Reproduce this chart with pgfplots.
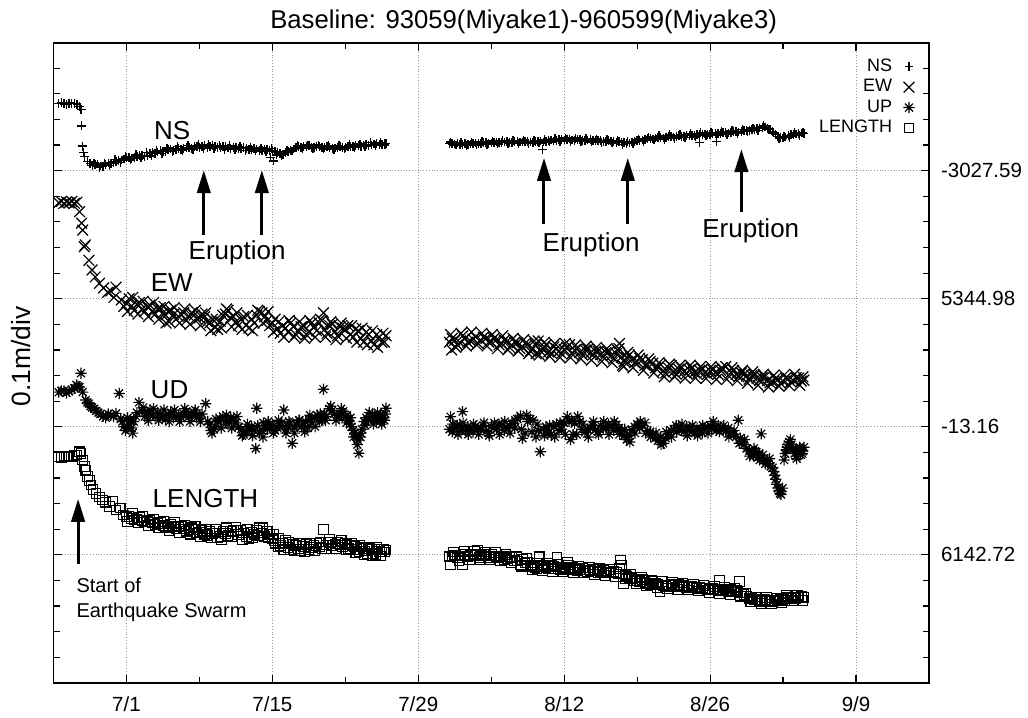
\documentclass[border=0pt]{standalone}
\usepackage{fontspec}
\setmainfont{Liberation Sans}
\usepackage{pgfplots}
\pgfplotsset{compat=1.18}
\usetikzlibrary{arrows.meta}
\pgfdeclareplotmark{gstar}{%
  \pgfpathmoveto{\pgfqpoint{-\pgfplotmarksize}{0pt}}\pgfpathlineto{\pgfqpoint{\pgfplotmarksize}{0pt}}%
  \pgfpathmoveto{\pgfqpoint{0pt}{-\pgfplotmarksize}}\pgfpathlineto{\pgfqpoint{0pt}{\pgfplotmarksize}}%
  \pgfpathmoveto{\pgfqpoint{-.7071\pgfplotmarksize}{-.7071\pgfplotmarksize}}\pgfpathlineto{\pgfqpoint{.7071\pgfplotmarksize}{.7071\pgfplotmarksize}}%
  \pgfpathmoveto{\pgfqpoint{-.7071\pgfplotmarksize}{.7071\pgfplotmarksize}}\pgfpathlineto{\pgfqpoint{.7071\pgfplotmarksize}{-.7071\pgfplotmarksize}}%
  \pgfusepathqstroke}
\pgfplotsset{
  nsst/.style={only marks, black, mark=+, mark size=2.2pt, mark options={line width=0.7pt}},
  ewst/.style={only marks, black, mark=x, mark size=3.8pt, mark options={line width=0.6pt}},
  udst/.style={only marks, black, mark=gstar, mark size=2.8pt, mark options={line width=0.6pt}},
  lnst/.style={only marks, black, mark=square, mark size=2.4pt, mark options={line width=0.55pt}},
}
\begin{document}
\begin{tikzpicture}
\begin{axis}[
  name=ax,
  scale only axis, width=437.75pt, height=320pt,
  xmin=-7, xmax=77, ymin=0, ymax=25,
  xtick={0,14,28,42,56,70}, xticklabels={7/1,7/15,7/29,8/12,8/26,9/9},
  minor xtick={-7,7,21,35,49,63},
  ytick={5,10,15,20}, yticklabels={6142.72,-13.16,5344.98,-3027.59},
  minor ytick={1,2,3,4,6,7,8,9,11,12,13,14,16,17,18,19,21,22,23,24},
  yticklabel pos=right, ytick pos=both, xtick pos=both,
  tick align=inside,
  major tick length=4pt, minor tick length=3pt,
  every tick/.style={black, line width=0.6pt},
  xmajorgrids, ymajorgrids,
  major grid style={densely dotted, gray!80, line width=0.4pt},
  axis line style={line width=0.9pt},
  tick label style={font=\fontsize{10.25}{12}\selectfont},
  xticklabel style={yshift=-3.5pt},
  yticklabel style={xshift=2.5pt},
  every axis title shift=0pt,
  title={Baseline: 93059(Miyake1)-960599(Miyake3)},
  title style={font=\fontsize{12.85}{15}\selectfont, at={(axis description cs:0.537,1.032)}, anchor=center},
  ylabel={0.1m/div},
  ylabel style={font=\fontsize{13.2}{15}\selectfont, at={(axis description cs:-0.0365,0.51)}, anchor=center},
  legend plot pos=right, legend cell align=right,
  legend image code/.code={\path[draw=none,fill=none] (0pt,0pt) -- (15.6pt,0pt); \draw[#1] plot coordinates {(7.8pt,0pt)};},
  legend style={at={(rel axis cs:1,1)}, anchor=north east, xshift=-2pt, yshift=-6.75pt,
    draw=none, fill=none, font=\fontsize{9}{10}\selectfont, inner sep=0pt, row sep=0pt,
    nodes={inner sep=0.6pt, text height=6.8pt, text depth=2.2pt}},
]
% NS
\addplot[nsst] coordinates {
(-6.5,22.63) (-6.0,22.61) (-5.5,22.64) (-5.0,22.62) (-4.75,22.6) (-4.5,22.5) (-4.35,22.38) (-4.3,21.75) (-4.2,20.96) (-4.1,20.7)
(-4.0,20.55) (-3.75,20.36) (-3.5,20.28) (-3.0,20.24) (-2.5,20.18) (-2.0,20.23) (-1.5,20.27) (-1.0,20.36) (-0.5,20.42) (0.0,20.5)
(0.5,20.47) (1.0,20.56) (1.5,20.6) (2.0,20.6) (2.5,20.7) (3.0,20.73) (3.5,20.76) (4.0,20.82) (4.5,20.8) (5.0,20.87)
(5.5,20.86) (6.0,20.9) (6.5,20.93) (7.0,20.91) (7.5,20.97) (8.0,20.93) (8.5,20.94) (9.0,20.9) (9.5,20.93) (10.0,20.88)
(10.5,20.91) (11.0,20.86) (11.5,20.88) (12.0,20.83) (12.5,20.85) (13.0,20.79) (13.5,20.84) (13.8,20.52) (14.0,20.8) (14.1,20.38)
(14.5,20.7) (15.0,20.64) (15.5,20.74) (16.0,20.85) (16.5,20.95) (17.0,20.93) (17.5,20.97) (18.0,20.92) (18.5,20.95) (19.0,20.9)
(19.5,20.92) (20.0,20.89) (20.5,20.94) (21.0,20.91) (21.5,20.95) (22.0,20.97) (22.5,20.96) (23.0,21.02) (23.5,21.0) (24.0,21.05)
(24.5,21.03) (24.9,21.06)
(31.0,21.07) (31.5,21.04) (32.0,21.02) (32.5,21.06) (33.0,21.04) (33.5,21.08) (34.0,21.06) (34.5,21.1) (35.0,21.08) (35.5,21.12)
(36.0,21.09) (36.5,21.13) (37.0,21.11) (37.5,21.15) (38.0,21.12) (38.5,21.14) (39.0,21.11) (39.5,21.15) (39.9,20.82) (40.0,21.12)
(40.5,21.18) (41.0,21.16) (41.5,21.22) (42.0,21.2) (42.5,21.24) (43.0,21.19) (43.5,21.22) (44.0,21.18) (44.5,21.21) (45.0,21.17)
(45.5,21.19) (46.0,21.14) (46.5,21.16) (47.0,21.11) (47.5,21.12) (48.0,21.06) (48.5,21.12) (49.0,21.17) (49.5,21.2) (50.0,21.26)
(50.5,21.24) (51.0,21.3) (51.5,21.28) (52.0,21.34) (52.5,21.32) (53.0,21.36) (53.5,21.34) (54.0,21.39) (54.5,21.37) (55.0,21.1)
(55.0,21.41) (55.5,21.43) (56.0,21.42) (56.5,21.46) (56.6,21.15) (57.0,21.45) (57.5,21.5) (58.0,21.48) (58.5,21.54) (59.0,21.52)
(59.5,21.58) (60.0,21.6) (60.5,21.64) (61.0,21.7) (61.5,21.66) (62.0,21.52) (62.5,21.34) (63.0,21.28) (63.5,21.36) (64.0,21.42)
(64.5,21.44) (65.0,21.46)
};
\addlegendentry{NS\hspace{7pt}}
% EW
\addplot[ewst] coordinates {
(-6.5,18.75) (-6.25,18.8) (-6.0,18.72) (-5.75,18.78) (-5.5,18.74) (-5.25,18.8) (-5.0,18.73) (-4.75,18.77) (-4.5,18.4) (-4.3,17.95)
(-4.2,17.68) (-4.05,17.03) (-3.95,17.1) (-3.6,16.5) (-3.3,16.12) (-3.0,15.85) (-2.6,15.6) (-2.2,15.42) (-1.8,15.25) (-1.5,15.3)
(-1.2,15.05) (-1.0,15.45) (-0.5,14.95) (0.0,14.82) (0.5,14.72) (1.0,14.78) (1.5,14.6) (2.0,14.68) (2.5,14.52) (3.0,14.6)
(3.5,14.45) (3.8,14.05) (4.0,14.5) (4.5,14.38) (5.0,14.3) (5.5,14.45) (6.0,14.32) (6.5,14.36) (7.0,14.25) (7.5,14.3)
(8.0,14.05) (8.5,13.88) (9.0,14.12) (9.5,14.4) (10.0,14.25) (10.5,14.1) (11.0,14.18) (11.5,13.98) (12.0,14.2) (12.5,14.35)
(13.0,14.45) (13.5,14.15) (14.0,14.05) (14.5,13.82) (15.0,13.95) (15.5,13.7) (16.0,13.9) (16.5,13.75) (17.0,13.95) (17.5,13.7)
(18.0,13.88) (18.5,14.05) (18.9,14.45) (19.0,13.8) (19.5,13.95) (20.0,13.72) (20.5,13.9) (21.0,13.78) (21.5,13.6) (22.0,13.82)
(22.5,13.45) (23.0,13.7) (23.5,13.35) (24.0,13.6) (24.5,13.3) (24.9,13.55)
(31.0,13.3) (31.2,13.0) (31.5,13.38) (32.0,13.28) (32.5,13.45) (33.0,13.35) (33.5,13.5) (34.0,13.38) (34.5,13.45) (35.0,13.32)
(35.5,13.4) (36.0,13.25) (36.5,13.33) (37.0,13.18) (37.5,13.28) (38.0,13.12) (38.5,13.22) (39.0,13.05) (39.3,12.85) (39.5,13.35)
(40.0,13.05) (40.5,12.92) (41.0,13.12) (41.5,12.95) (42.0,13.02) (42.5,13.2) (43.0,12.98) (43.5,12.9) (44.0,13.0) (44.5,12.88)
(45.0,12.95) (45.5,12.82) (46.0,12.9) (46.5,12.78) (47.0,12.85) (47.3,13.25) (47.5,12.72) (47.7,12.35) (48.0,12.7) (48.5,12.62)
(49.0,12.55) (49.5,12.62) (50.0,12.42) (50.5,12.48) (51.0,12.32) (51.5,12.18) (52.0,12.3) (52.5,12.15) (53.0,12.25) (53.5,12.15)
(54.0,12.22) (54.5,12.12) (55.0,12.2) (55.5,12.1) (56.0,12.18) (56.5,12.12) (57.0,12.2) (57.5,12.35) (58.0,12.12) (58.5,12.05)
(59.0,12.1) (59.5,11.98) (60.0,12.0) (60.5,11.9) (61.0,11.92) (61.5,11.8) (62.0,11.75) (62.5,11.85) (63.0,11.78) (63.5,11.88)
(64.0,11.8) (64.5,11.9) (65.0,11.82)
};
\addlegendentry{EW\hspace{7pt}}
% UD
\addplot[udst] coordinates {
(-6.5,11.35) (-6.0,11.4) (-5.5,11.38) (-5.0,11.5) (-4.8,11.63) (-4.5,11.55) (-4.36,12.09) (-4.2,11.35) (-3.9,11.04) (-3.6,10.9)
(-3.3,10.75) (-2.9,10.62) (-2.5,10.5) (-2.0,10.35) (-1.5,10.45) (-1.0,10.52) (-0.7,11.3) (-0.4,10.2) (-0.1,9.85) (0.2,10.1)
(0.5,9.95) (0.9,10.4) (1.2,10.95) (1.5,10.6) (2.0,10.52) (2.5,10.45) (3.0,10.55) (3.5,10.38) (4.0,10.48) (4.5,10.35)
(5.0,10.45) (5.5,10.5) (6.0,10.4) (6.5,10.55) (7.0,10.42) (7.6,10.9) (8.0,10.1) (8.2,9.75) (8.5,10.0) (9.0,10.3)
(9.5,10.2) (10.0,10.35) (10.5,10.15) (11.0,9.9) (11.5,9.8) (12.0,10.0) (12.4,9.15) (12.5,10.72) (13.0,9.85) (13.3,10.05)
(13.5,9.9) (14.0,10.1) (14.5,9.95) (14.9,10.15) (15.1,10.65) (15.5,10.0) (15.9,9.35) (16.3,10.1) (16.8,10.0) (17.2,10.2)
(17.6,10.28) (18.1,10.35) (18.5,10.2) (18.9,11.46) (19.2,10.4) (19.7,10.62) (20.2,10.45) (20.6,10.5) (21.0,10.38) (21.3,10.25)
(21.6,10.0) (21.9,9.75) (22.2,9.48) (22.3,8.96) (22.6,9.9) (23.0,10.35) (23.4,10.4) (23.8,10.28) (24.2,10.38) (24.6,10.3)
(24.9,10.72)
(31.0,9.9) (31.1,10.39) (31.5,9.95) (32.0,10.05) (32.25,10.59) (32.5,9.85) (33.0,9.95) (33.5,10.02) (34.0,9.88) (34.5,9.82)
(35.0,10.0) (35.5,9.9) (36.0,10.05) (36.5,9.95) (37.0,10.12) (37.5,10.3) (37.8,10.42) (38.0,9.55) (38.5,10.2) (39.0,10.25)
(39.3,9.6) (39.7,9.02) (40.0,9.9) (40.5,9.78) (41.0,10.0) (41.5,9.85) (42.0,10.15) (42.3,10.39) (42.6,9.5) (43.0,10.12)
(43.3,10.4) (43.7,9.9) (44.0,9.78) (44.5,9.95) (45.0,9.88) (45.5,10.05) (46.0,9.92) (46.5,10.0) (47.0,10.08) (47.5,9.8)
(48.0,9.5) (48.5,9.85) (49.0,10.1) (49.5,10.05) (50.0,9.85) (50.5,9.7) (51.0,9.45) (51.5,9.35) (52.0,9.7) (52.5,9.9)
(53.0,10.0) (53.5,9.8) (54.0,9.9) (54.5,9.75) (55.0,9.85) (55.5,9.95) (56.0,10.05) (56.3,10.2) (56.6,9.85) (57.0,9.95)
(57.5,9.82) (58.0,9.75) (58.5,9.6) (58.7,10.25) (59.0,9.4) (59.5,9.15) (60.0,8.95) (60.3,9.05) (60.6,8.8) (60.9,9.72)
(61.2,8.75) (61.6,8.55) (62.0,8.4) (62.2,8.1) (62.4,7.75) (62.6,7.5) (62.8,7.35) (62.95,7.6) (63.1,8.7) (63.3,9.1)
(63.6,9.4) (63.8,9.3) (64.1,8.95) (64.4,9.05) (64.7,8.9) (65.0,9.2)
};
\addlegendentry{UP\hspace{7pt}}
% LENGTH
\addplot[lnst] coordinates {
(-6.5,8.83) (-6.25,8.8) (-6.0,8.85) (-5.75,8.82) (-5.5,8.86) (-5.25,8.84) (-5.0,8.88) (-4.75,8.9) (-4.5,9.02) (-4.35,8.95)
(-4.2,8.7) (-4.04,8.44) (-3.9,8.3) (-3.72,8.05) (-3.55,7.9) (-3.4,7.72) (-3.2,7.55) (-2.92,7.4) (-2.6,7.25) (-2.29,7.14)
(-2.0,7.05) (-1.65,6.88) (-1.3,7.1) (-1.0,6.75) (-0.6,6.82) (-0.3,6.55) (0.0,6.48) (0.5,6.42) (1.0,6.38) (1.5,6.34)
(2.0,6.3) (2.5,6.25) (3.0,6.22) (3.5,6.15) (4.0,6.05) (4.5,6.12) (5.0,6.08) (5.5,6.0) (6.0,5.96) (6.5,5.98)
(7.0,5.88) (7.5,5.8) (8.0,5.92) (8.5,5.85) (9.0,5.72) (9.5,5.82) (10.0,5.9) (10.5,6.08) (11.0,5.95) (11.5,5.7)
(12.0,5.88) (12.5,5.95) (13.0,5.85) (13.5,5.92) (14.0,5.62) (14.3,5.45) (14.6,5.65) (15.0,5.45) (15.5,5.28) (16.0,5.4)
(16.5,5.22) (17.0,5.32) (17.5,5.2) (18.0,5.35) (18.5,5.3) (18.9,5.99) (19.2,5.38) (19.6,5.48) (20.0,5.42) (20.5,5.38)
(21.0,5.45) (21.3,5.25) (21.7,5.35) (22.1,5.2) (22.5,5.3) (22.9,5.15) (23.3,5.25) (23.7,5.05) (24.1,5.2) (24.5,5.1)
(24.9,5.18)
(31.0,4.92) (31.1,4.6) (31.5,4.98) (32.0,4.95) (32.25,4.6) (32.5,5.0) (33.0,4.96) (33.5,5.02) (33.7,5.18) (34.0,4.98)
(34.5,4.95) (35.0,5.0) (35.5,4.92) (36.0,4.95) (36.5,4.85) (37.0,4.9) (37.5,4.75) (37.8,4.6) (38.0,4.82) (38.5,4.7)
(39.0,4.55) (39.4,4.45) (39.6,4.92) (40.0,4.55) (40.5,4.45) (41.0,4.55) (41.3,4.9) (41.6,4.42) (42.0,4.52) (42.3,4.72)
(42.6,4.4) (43.0,4.45) (43.5,4.42) (44.0,4.4) (44.5,4.38) (45.0,4.36) (45.5,4.35) (46.0,4.32) (46.5,4.3) (47.0,4.3)
(47.4,4.79) (47.5,4.6) (47.7,3.88) (48.0,4.15) (48.5,4.05) (49.0,3.98) (49.5,4.02) (50.0,3.88) (50.5,3.82) (51.0,3.86)
(51.2,3.55) (51.5,3.78) (52.0,3.82) (52.5,3.8) (53.0,3.84) (53.5,3.78) (54.0,3.76) (54.5,3.72) (55.0,3.74) (55.5,3.68)
(56.0,3.65) (56.5,3.62) (56.9,4.0) (57.0,3.64) (57.5,3.6) (58.0,3.66) (58.5,3.62) (58.8,3.95) (59.0,3.5) (59.5,3.38)
(60.0,3.28) (60.5,3.24) (61.0,3.2) (61.5,3.22) (62.0,3.18) (62.5,3.22) (63.0,3.25) (63.3,3.4) (63.5,3.3) (64.0,3.3)
(64.5,3.34) (65.0,3.32)
};
\addlegendentry{LENGTH}
% further readings between the ones above
\addplot[nsst, forget plot] coordinates {
(-6.25,22.65) (-5.75,22.6) (-5.25,22.63) (-3.25,20.2) (-2.75,20.26) (-2.25,20.16) (-1.75,20.3) (-1.25,20.3) (-0.75,20.4) (-0.25,20.46)
(0.25,20.52) (0.75,20.5) (1.25,20.6) (1.75,20.55) (2.25,20.67) (2.75,20.68) (3.25,20.78) (3.75,20.74) (4.25,20.85) (4.75,20.84)
(5.25,20.83) (5.75,20.91) (6.25,20.88) (6.75,20.96) (7.25,20.93) (7.75,20.92) (8.25,20.97) (8.75,20.9) (9.25,20.95) (9.75,20.89)
(10.25,20.92) (10.75,20.87) (11.25,20.9) (11.75,20.84) (12.25,20.86) (12.75,20.8) (13.25,20.83) (13.75,20.78) (14.25,20.74) (14.75,20.66)
(15.25,20.7) (15.75,20.8) (16.25,20.9) (16.75,20.92) (17.25,20.95) (17.75,20.91) (18.25,20.96) (18.75,20.92) (19.25,20.94) (19.75,20.88)
(20.25,20.92) (20.75,20.9) (21.25,20.96) (21.75,20.93) (22.25,20.99) (22.75,21.0) (23.25,20.98) (23.75,21.04) (24.25,21.02) (24.75,21.07)
(31.25,21.05) (31.75,21.08) (32.25,21.03) (32.75,21.02) (33.25,21.07) (33.75,21.05) (34.25,21.09) (34.75,21.07) (35.25,21.11) (35.75,21.09)
(36.25,21.12) (36.75,21.1) (37.25,21.14) (37.75,21.12) (38.25,21.15) (38.75,21.12) (39.25,21.13) (39.75,21.16) (40.25,21.15) (40.75,21.2)
(41.25,21.18) (41.75,21.23) (42.25,21.21) (42.75,21.2) (43.25,21.23) (43.75,21.19) (44.25,21.2) (44.75,21.18) (45.25,21.19) (45.75,21.15)
(46.25,21.17) (46.75,21.13) (47.25,21.13) (47.75,21.09) (48.25,21.08) (48.75,21.15) (49.25,21.19) (49.75,21.23) (50.25,21.25) (50.75,21.28)
(51.25,21.29) (51.75,21.31) (52.25,21.33) (52.75,21.35) (53.25,21.34) (53.75,21.38) (54.25,21.37) (54.75,21.4) (55.25,21.42) (55.75,21.41)
(56.25,21.45) (56.75,21.44) (57.25,21.48) (57.75,21.47) (58.25,21.52) (58.75,21.51) (59.25,21.56) (59.75,21.57) (60.25,21.62) (60.75,21.67)
(61.25,21.71) (61.75,21.6) (62.25,21.42) (62.75,21.3) (63.25,21.32) (63.75,21.4) (64.25,21.43) (64.75,21.47)
(-3.1,20.3) (-2.6,20.12) (-2.1,20.3) (-1.6,20.2) (-1.1,20.44) (-0.6,20.33) (-0.1,20.56) (0.4,20.42) (0.9,20.62) (1.4,20.5)
(1.9,20.7) (2.4,20.58) (2.9,20.8) (3.4,20.68) (3.9,20.88) (4.4,20.74) (4.9,20.94) (5.4,20.8) (5.9,20.98) (6.4,20.84)
(6.9,21.02) (7.4,20.88) (7.9,21.02) (8.4,20.87) (8.9,20.99) (9.4,20.84) (9.9,20.97) (10.4,20.83) (10.9,20.94) (11.4,20.8)
(11.9,20.92) (12.4,20.77) (12.9,20.88) (13.4,20.75) (13.9,20.86) (14.4,20.62) (14.9,20.6) (15.4,20.78) (15.9,20.77) (16.4,20.98)
(16.9,20.86) (17.4,21.0) (17.9,20.86) (18.4,21.0) (18.9,20.85) (19.4,20.98) (19.9,20.84) (20.4,20.98) (20.9,20.85) (21.4,21.01)
(21.9,20.9) (22.4,21.04) (22.9,20.94) (23.4,21.09) (23.9,20.98) (24.4,21.1) (24.8,21.0)
(31.1,21.12) (31.6,21.0) (32.1,21.1) (32.6,20.98) (33.1,21.12) (33.6,21.0) (34.1,21.14) (34.6,21.02) (35.1,21.16) (35.6,21.04)
(36.1,21.17) (36.6,21.06) (37.1,21.19) (37.6,21.07) (38.1,21.2) (38.6,21.06) (39.1,21.19) (39.6,21.08) (40.1,21.22) (40.6,21.12)
(41.1,21.26) (41.6,21.14) (42.1,21.28) (42.6,21.15) (43.1,21.27) (43.6,21.14) (44.1,21.26) (44.6,21.12) (45.1,21.24) (45.6,21.1)
(46.1,21.21) (46.6,21.08) (47.1,21.18) (47.6,21.03) (48.1,21.13) (48.6,21.06) (49.1,21.24) (49.6,21.13) (50.1,21.32) (50.6,21.2)
(51.1,21.36) (51.6,21.22) (52.1,21.4) (52.6,21.27) (53.1,21.42) (53.6,21.29) (54.1,21.45) (54.6,21.32) (55.1,21.48) (55.6,21.36)
(56.1,21.5) (56.6,21.38) (57.1,21.52) (57.6,21.42) (58.1,21.56) (58.6,21.46) (59.1,21.6) (59.6,21.52) (60.1,21.67) (60.6,21.58)
(61.1,21.76) (61.6,21.62) (62.1,21.48) (62.6,21.25) (63.1,21.34) (63.6,21.3) (64.1,21.48) (64.6,21.38) (64.9,21.5)
};
\addplot[ewst, forget plot] coordinates {
(-0.25,14.7) (0.25,15.0) (0.75,14.55) (1.25,14.85) (1.75,14.5) (2.25,14.75) (2.75,14.4) (3.25,14.65) (3.75,14.35) (4.25,14.55)
(4.75,14.2) (5.25,14.4) (5.75,14.15) (6.25,14.45) (6.75,14.2) (7.25,14.4) (7.75,14.1) (8.25,14.2) (8.75,13.8) (9.25,14.35)
(9.75,14.55) (10.25,14.3) (10.75,13.95) (11.25,14.3) (11.75,13.85) (12.25,14.05) (12.75,14.5) (13.25,14.3) (13.75,13.95) (14.25,14.2)
(14.75,13.65) (15.25,13.85) (15.75,14.05) (16.25,13.6) (16.75,13.9) (17.25,13.6) (17.75,14.05) (18.25,13.75) (18.75,14.15) (19.25,13.65)
(19.75,14.0) (20.25,13.55) (20.75,13.85) (21.25,13.95) (21.75,13.5) (22.25,13.75) (22.75,13.3) (23.25,13.6) (23.75,13.2) (24.25,13.5)
(24.75,13.3)
(31.25,13.45) (31.75,13.2) (32.25,13.55) (32.75,13.3) (33.25,13.42) (33.75,13.25) (34.25,13.5) (34.75,13.3) (35.25,13.45) (35.75,13.2)
(36.25,13.38) (36.75,13.1) (37.25,13.3) (37.75,13.05) (38.25,13.25) (38.75,12.95) (39.25,13.2) (39.75,12.95) (40.25,13.2) (40.75,12.88)
(41.25,13.05) (41.75,12.85) (42.25,13.1) (42.75,12.85) (43.25,13.05) (43.75,12.8) (44.25,13.02) (44.75,12.8) (45.25,12.95) (45.75,12.72)
(46.25,12.92) (46.75,12.65) (47.25,13.05) (47.75,12.55) (48.25,12.8) (48.75,12.5) (49.25,12.68) (49.75,12.4) (50.25,12.55) (50.75,12.3)
(51.25,12.42) (51.75,12.1) (52.25,12.38) (52.75,12.05) (53.25,12.3) (53.75,12.08) (54.25,12.28) (54.75,12.05) (55.25,12.25) (55.75,12.05)
(56.25,12.22) (56.75,12.05) (57.25,12.25) (57.75,12.0) (58.25,12.2) (58.75,11.95) (59.25,12.05) (59.75,11.85) (60.25,12.02) (60.75,11.8)
(61.25,11.95) (61.75,11.72) (62.25,11.88) (62.75,11.7) (63.25,11.9) (63.75,11.75) (64.25,11.92) (64.75,11.78)
(0.1,14.5) (0.6,15.05) (1.1,14.4) (1.6,14.9) (2.1,14.3) (2.6,14.85) (3.1,14.2) (3.6,14.7) (4.1,14.1) (4.6,14.65)
(5.1,14.05) (5.6,14.6) (6.1,14.0) (6.6,14.55) (7.1,13.95) (7.6,14.45) (8.1,13.75) (8.6,14.2) (9.1,13.85) (9.6,14.6)
(10.1,13.9) (10.6,14.45) (11.1,13.8) (11.6,14.35) (12.1,13.75) (12.6,14.55) (13.1,14.05) (13.6,14.5) (14.1,13.7) (14.6,14.1)
(15.1,13.5) (15.6,14.15) (16.1,13.5) (16.6,14.1) (17.1,13.45) (17.6,14.15) (18.1,13.5) (18.6,14.2) (19.1,13.5) (19.6,14.1)
(20.1,13.4) (20.6,14.05) (21.1,13.45) (21.6,13.95) (22.1,13.3) (22.6,13.85) (23.1,13.2) (23.6,13.75) (24.1,13.1) (24.6,13.65)
(31.1,13.6) (31.6,13.1) (32.1,13.65) (32.6,13.15) (33.1,13.7) (33.6,13.2) (34.1,13.65) (34.6,13.15) (35.1,13.6) (35.6,13.05)
(36.1,13.55) (36.6,13.0) (37.1,13.45) (37.6,12.95) (38.1,13.4) (38.6,12.85) (39.1,13.35) (39.6,12.8) (40.1,13.3) (40.6,12.75)
(41.1,13.25) (41.6,12.7) (42.1,13.25) (42.6,12.7) (43.1,13.2) (43.6,12.65) (44.1,13.15) (44.6,12.6) (45.1,13.1) (45.6,12.55)
(46.1,13.05) (46.6,12.5) (47.1,13.0) (47.6,12.4) (48.1,12.9) (48.6,12.3) (49.1,12.8) (49.6,12.2) (50.1,12.65) (50.6,12.1)
(51.1,12.5) (51.6,11.95) (52.1,12.45) (52.6,11.95) (53.1,12.4) (53.6,11.9) (54.1,12.4) (54.6,11.9) (55.1,12.35) (55.6,11.88)
(56.1,12.35) (56.6,11.85) (57.1,12.3) (57.6,11.85) (58.1,12.3) (58.6,11.8) (59.1,12.2) (59.6,11.7) (60.1,12.15) (60.6,11.62)
(61.1,12.05) (61.6,11.55) (62.1,12.0) (62.6,11.58) (63.1,12.02) (63.6,11.6) (64.1,12.05) (64.6,11.62) (64.9,11.95)
};
\addplot[udst, forget plot] coordinates {
(-6.25,11.4) (-5.75,11.32) (-5.25,11.45) (-4.65,11.58) (-3.75,10.95) (-3.45,10.8) (-3.1,10.7) (-2.7,10.55) (-2.25,10.4) (-1.75,10.5)
(-1.25,10.4) (-0.55,10.3) (-0.25,10.0) (0.05,9.95) (0.35,10.25) (0.7,10.2) (1.0,10.55) (1.75,10.4) (2.25,10.65) (2.75,10.38)
(3.25,10.5) (3.75,10.3) (4.25,10.55) (4.75,10.42) (5.25,10.35) (5.75,10.6) (6.25,10.48) (6.75,10.35) (7.25,10.5) (7.8,10.2)
(8.4,9.9) (8.75,10.2) (9.25,10.4) (9.75,10.1) (10.25,10.25) (10.75,10.0) (11.25,9.7) (11.75,9.95) (12.25,9.85) (12.75,9.75)
(13.15,10.15) (13.75,10.0) (14.25,9.85) (14.7,10.05) (15.3,9.9) (15.7,10.15) (16.1,9.95) (16.55,10.25) (17.0,10.05) (17.4,9.95)
(17.8,10.15) (18.3,10.45) (18.7,10.25) (19.0,10.5) (19.45,10.7) (19.95,10.5) (20.4,10.35) (20.8,10.6) (21.15,10.45) (21.45,10.1)
(21.75,9.85) (22.05,9.62) (22.45,9.6) (22.8,10.2) (23.2,10.25) (23.6,10.5) (24.0,10.2) (24.4,10.45) (24.75,10.25)
(31.25,9.8) (31.75,10.05) (32.1,9.85) (32.75,10.0) (33.25,9.8) (33.75,9.92) (34.25,10.05) (34.75,9.75) (35.25,9.95) (35.75,10.1)
(36.25,9.85) (36.75,10.05) (37.25,9.95) (38.25,9.75) (38.75,10.3) (39.5,9.85) (40.25,10.0) (40.75,9.7) (41.25,10.1) (41.75,9.9)
(42.45,10.2) (42.85,9.7) (43.5,10.2) (44.25,9.9) (44.75,10.05) (45.25,9.8) (45.75,9.95) (46.25,10.1) (46.75,9.85) (47.25,9.95)
(47.75,9.65) (48.25,9.65) (48.75,10.0) (49.25,9.95) (49.75,10.15) (50.25,9.8) (50.75,9.55) (51.25,9.6) (51.75,9.55) (52.25,9.85)
(52.75,10.05) (53.25,9.85) (53.75,10.0) (54.25,9.8) (54.75,9.95) (55.25,9.75) (55.75,10.0) (56.15,9.9) (56.8,10.05) (57.25,9.9)
(57.75,9.95) (58.25,9.7) (58.9,9.55) (59.25,9.3) (59.75,9.05) (60.15,8.85) (60.45,9.0) (60.75,8.7) (61.05,8.9) (61.4,8.65)
(61.8,8.45) (62.1,8.25) (62.3,7.95) (62.5,7.6) (62.7,7.4) (63.2,8.95) (63.45,9.3) (63.95,9.15) (64.25,8.85) (64.55,9.1)
(64.85,8.95)
(0.1,10.35) (0.6,9.75) (1.6,10.75) (2.1,10.25) (2.6,10.7) (3.1,10.25) (3.6,10.65) (4.1,10.2) (4.6,10.65) (5.1,10.2)
(5.6,10.7) (6.1,10.2) (6.6,10.65) (7.1,10.2) (8.1,9.85) (8.6,10.3) (9.1,9.95) (9.6,10.45) (10.1,9.95) (10.6,10.4)
(11.1,9.65) (11.6,10.1) (12.1,9.65) (12.6,10.05) (13.1,9.6) (13.6,10.2) (14.1,9.75) (14.6,10.25) (15.3,9.75) (15.6,10.2)
(16.1,9.75) (16.6,10.25) (17.1,9.8) (17.6,10.45) (18.1,10.0) (18.6,10.5) (19.1,10.25) (19.6,10.8) (20.1,10.25) (20.6,10.7)
(21.1,10.15) (21.5,10.35) (21.8,9.6) (22.15,9.3) (22.5,9.75) (22.9,10.05) (23.3,10.55) (23.7,10.1) (24.1,10.55) (24.5,10.1)
(24.85,10.5)
(31.3,10.1) (31.8,9.7) (32.3,10.15) (32.8,9.7) (33.3,10.1) (33.8,9.7) (34.3,10.15) (34.8,9.65) (35.3,10.15) (35.8,9.7)
(36.3,10.2) (36.8,9.75) (37.3,10.25) (37.9,9.9) (38.4,10.45) (38.9,9.8) (39.4,10.1) (40.1,9.65) (40.6,10.05) (41.1,9.6)
(41.6,10.15) (42.1,9.7) (42.7,10.25) (43.2,9.7) (43.8,10.1) (44.3,9.6) (44.8,10.2) (45.3,9.7) (45.8,10.2) (46.3,9.7)
(46.8,10.2) (47.3,9.7) (47.8,9.9) (48.3,9.4) (48.8,9.75) (49.3,10.2) (49.8,9.75) (50.3,9.6) (50.8,9.75) (51.3,9.3)
(51.8,9.8) (52.3,9.6) (52.8,9.8) (53.3,10.1) (53.8,9.65) (54.3,10.05) (54.8,9.65) (55.3,10.05) (55.8,9.75) (56.4,10.0)
(56.9,9.8) (57.3,10.05) (57.8,9.6) (58.3,9.85) (58.8,9.35) (59.3,9.5) (59.8,8.85) (60.2,9.15) (60.7,8.95) (61.3,8.55)
(61.7,8.75) (63.4,9.2) (63.7,9.5) (64.0,9.1) (64.3,8.75) (64.6,9.2) (64.9,9.05)
};
\addplot[lnst, forget plot] coordinates {
(0.25,6.5) (0.75,6.35) (1.25,6.45) (1.75,6.28) (2.25,6.35) (2.75,6.18) (3.25,6.28) (3.75,6.1) (4.25,6.2) (4.75,6.0)
(5.25,6.12) (5.75,5.92) (6.25,6.05) (6.75,5.85) (7.25,5.95) (7.75,5.75) (8.25,5.82) (8.75,5.65) (9.25,5.9) (9.75,5.75)
(10.25,5.95) (10.75,5.78) (11.25,5.85) (11.75,5.62) (12.25,5.8) (12.75,6.05) (13.25,5.72) (13.75,5.8) (14.15,5.55) (14.8,5.35)
(15.25,5.55) (15.75,5.2) (16.25,5.35) (16.75,5.15) (17.25,5.4) (17.75,5.28) (18.25,5.45) (18.75,5.25) (19.4,5.5) (19.8,5.35)
(20.25,5.5) (20.75,5.3) (21.15,5.4) (21.5,5.2) (21.9,5.32) (22.3,5.12) (22.7,5.25) (23.1,5.05) (23.5,5.2) (23.9,5.0)
(24.3,5.12) (24.7,5.22)
(31.25,4.95) (31.75,4.88) (32.75,4.92) (33.25,4.98) (33.9,4.9) (34.25,5.02) (34.75,4.9) (35.25,4.95) (35.75,4.88) (36.25,4.8)
(36.75,4.92) (37.25,4.78) (38.25,4.68) (38.75,4.6) (39.2,4.5) (39.8,4.6) (40.25,4.5) (40.75,4.6) (41.1,4.45) (41.8,4.5)
(42.15,4.45) (42.8,4.5) (43.25,4.38) (43.75,4.48) (44.25,4.35) (44.75,4.42) (45.25,4.3) (45.75,4.38) (46.25,4.28) (46.75,4.35)
(47.2,4.25) (47.85,4.2) (48.25,4.1) (48.75,4.0) (49.25,3.95) (49.75,3.92) (50.25,3.85) (50.75,3.9) (51.35,3.82) (51.75,3.75)
(52.25,3.85) (52.75,3.74) (53.25,3.8) (53.75,3.72) (54.25,3.78) (54.75,3.68) (55.25,3.7) (55.75,3.62) (56.25,3.68) (56.75,3.58)
(57.25,3.62) (57.75,3.55) (58.25,3.6) (58.65,3.55) (59.25,3.45) (59.75,3.3) (60.25,3.26) (60.75,3.18) (61.25,3.24) (61.75,3.17)
(62.25,3.2) (62.75,3.26) (63.15,3.22) (63.75,3.34) (64.25,3.28) (64.75,3.36)
(0.1,6.3) (0.6,6.6) (1.1,6.25) (1.6,6.5) (2.1,6.15) (2.6,6.4) (3.1,6.05) (3.6,6.3) (4.1,5.95) (4.6,6.25)
(5.1,5.85) (5.6,6.15) (6.1,5.8) (6.6,6.1) (7.1,5.7) (7.6,6.0) (8.1,5.65) (8.6,6.0) (9.1,5.6) (9.6,6.05)
(10.1,5.7) (10.6,5.95) (11.1,5.6) (11.6,6.0) (12.1,5.65) (12.6,5.75) (13.1,6.05) (13.6,5.65) (14.1,5.8) (14.6,5.3)
(15.1,5.2) (15.6,5.5) (16.1,5.15) (16.6,5.45) (17.1,5.1) (17.6,5.45) (18.1,5.15) (18.6,5.5) (19.1,5.25) (19.5,5.6)
(20.1,5.25) (20.6,5.55) (21.1,5.2) (21.6,5.45) (22.0,5.08) (22.4,5.38) (22.8,5.0) (23.2,5.3) (23.6,4.95) (24.0,5.28)
(24.4,4.95) (24.8,5.1)
(31.4,5.1) (31.9,4.78) (32.4,5.12) (32.9,4.8) (33.4,5.12) (33.9,4.8) (34.4,5.1) (34.9,4.82) (35.4,5.08) (35.9,4.78)
(36.4,5.0) (36.9,4.7) (37.4,4.92) (37.9,4.55) (38.4,4.85) (38.9,4.42) (39.4,4.68) (39.9,4.38) (40.4,4.65) (40.9,4.35)
(41.4,4.62) (41.9,4.32) (42.4,4.6) (42.9,4.3) (43.4,4.55) (43.9,4.28) (44.4,4.5) (44.9,4.22) (45.4,4.45) (45.9,4.18)
(46.4,4.42) (46.9,4.15) (47.3,4.45) (47.9,4.05) (48.4,4.25) (48.9,3.88) (49.4,4.12) (49.9,3.78) (50.4,3.98) (50.9,3.72)
(51.4,3.95) (51.9,3.68) (52.4,3.92) (52.9,3.65) (53.4,3.9) (53.9,3.62) (54.4,3.85) (54.9,3.58) (55.4,3.8) (55.9,3.5)
(56.4,3.75) (56.9,3.48) (57.4,3.72) (57.9,3.45) (58.4,3.7) (58.9,3.38) (59.4,3.5) (59.9,3.15) (60.4,3.35) (60.9,3.1)
(61.4,3.32) (61.9,3.08) (62.4,3.3) (62.9,3.12) (63.4,3.35) (63.9,3.2) (64.4,3.42) (64.9,3.22)
};
% annotations
\begin{scope}[font=\fontsize{13}{15}\selectfont]
\node[anchor=base] at (axis cs:4.38,21.2) {NS};
\node[anchor=base] at (axis cs:4.34,15.27) {EW};
\node[anchor=base] at (axis cs:4.13,11.11) {UD};
\node[anchor=base] at (axis cs:7.58,6.84) {LENGTH};
\node[anchor=base] at (axis cs:10.62,16.54) {Eruption};
\node[anchor=base] at (axis cs:44.58,16.84) {Eruption};
\node[anchor=base] at (axis cs:59.9,17.4) {Eruption};
\end{scope}
\node[anchor=base west, font=\fontsize{10}{12}\selectfont] at (axis cs:-5.47,3.53) {Start of};
\node[anchor=base west, font=\fontsize{10}{12}\selectfont] at (axis cs:-5.47,2.55) {Earthquake Swarm};
\begin{scope}[line width=1.5pt, -{Triangle[length=11.5pt,width=6.7pt]}]
\draw (axis cs:7.42,17.48) -- (axis cs:7.42,20.02);
\draw (axis cs:12.99,17.48) -- (axis cs:12.99,20.02);
\draw (axis cs:40.06,17.92) -- (axis cs:40.06,20.5);
\draw (axis cs:48.1,17.92) -- (axis cs:48.1,20.5);
\draw (axis cs:59.0,18.38) -- (axis cs:59.0,20.84);
\draw (axis cs:-4.64,4.64) -- (axis cs:-4.64,7.18);
\end{scope}
\end{axis}
\pgfresetboundingbox
\useasboundingbox ([shift={(-26.75pt,-17.15pt)}]ax.south west) rectangle ([shift={(49.5pt,21.35pt)}]ax.north east);
\end{tikzpicture}
\end{document}
